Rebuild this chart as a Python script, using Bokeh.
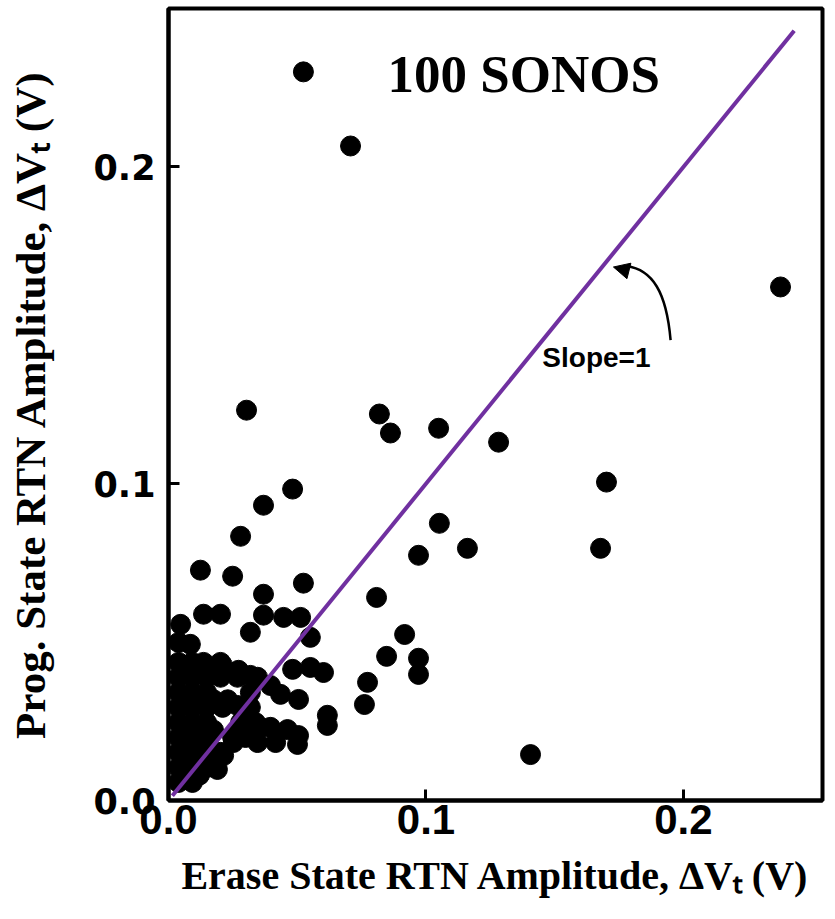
from bokeh.plotting import figure
from bokeh.models import (FixedTicker, PrintfTickFormatter, Label, Range1d,
                          Arrow, NormalHead, ColumnDataSource)
from bokeh.embed import file_html
from bokeh.resources import INLINE

# Erase-state vs program-state RTN amplitude (V)
erase_dvt = [
    # isolated points
    0.0524, 0.0707, 0.2377, 0.0303, 0.0819, 0.0862, 0.1049, 0.1282, 0.1701, 0.0482,
    0.0369, 0.0280, 0.1052, 0.0971, 0.1161, 0.1678, 0.0124, 0.0249, 0.0808, 0.0524,
    0.0369, 0.0136, 0.0202, 0.0369, 0.0447, 0.0513, 0.0318, 0.0551, 0.0047, 0.0085,
    0.0917, 0.0847, 0.0971, 0.0971, 0.0773, 0.0761, 0.1406,
    # near cluster
    0.0210, 0.0272, 0.0318, 0.0482, 0.0551, 0.0602, 0.0396, 0.0435, 0.0505, 0.0617,
    0.0617, 0.0357, 0.0396, 0.0462, 0.0505, 0.0346, 0.0416, 0.0501, 0.0268, 0.0268,
    0.0252, 0.0214, 0.0190, 0.0113, 0.0074,
    # dense cluster near origin
    0.0039,
    0.0039, 0.0093, 0.0136, 0.0202,
    0.0039, 0.0093, 0.0148, 0.0202, 0.0268, 0.0346,
    0.0039, 0.0093, 0.0148, 0.0318,
    0.0039, 0.0093, 0.0148, 0.0210, 0.0318,
    0.0039, 0.0093, 0.0148, 0.0280, 0.0338,
    0.0039, 0.0093, 0.0148, 0.0249, 0.0299,
    0.0039, 0.0093, 0.0148, 0.0202,
    0.0039, 0.0093, 0.0148,
    0.0039, 0.0093,
    0.0066, 0.0120, 0.0175, 0.0066, 0.0120, 0.0175, 0.0066, 0.0120, 0.0175, 0.0230,
    0.0066, 0.0120, 0.0175, 0.0066, 0.0120,
]
prog_dvt = [
    0.2300, 0.2066, 0.1621, 0.1232, 0.1220, 0.1160, 0.1175, 0.1131, 0.1005, 0.0983,
    0.0932, 0.0834, 0.0875, 0.0774, 0.0796, 0.0796, 0.0727, 0.0708, 0.0641, 0.0686,
    0.0651, 0.0588, 0.0588, 0.0585, 0.0578, 0.0578, 0.0531, 0.0515, 0.0556, 0.0493,
    0.0524, 0.0455, 0.0449, 0.0398, 0.0373, 0.0303, 0.0145,
    0.0427, 0.0411, 0.0395, 0.0414, 0.0420, 0.0404, 0.0363, 0.0335, 0.0319, 0.0269,
    0.0237, 0.0231, 0.0231, 0.0224, 0.0205, 0.0183, 0.0183, 0.0177, 0.0300, 0.0224,
    0.0183, 0.0142, 0.0098, 0.0079, 0.0066,
    0.0499,
    0.0436, 0.0436, 0.0436, 0.0436,
    0.0389, 0.0389, 0.0389, 0.0389, 0.0389, 0.0389,
    0.0341, 0.0341, 0.0341, 0.0341,
    0.0294, 0.0294, 0.0294, 0.0294, 0.0294,
    0.0246, 0.0246, 0.0246, 0.0246, 0.0246,
    0.0199, 0.0199, 0.0199, 0.0199, 0.0199,
    0.0152, 0.0152, 0.0152, 0.0152,
    0.0104, 0.0104, 0.0104,
    0.0057, 0.0057,
    0.0412, 0.0412, 0.0412, 0.0318, 0.0318, 0.0318, 0.0222, 0.0222, 0.0222, 0.0318,
    0.0128, 0.0128, 0.0128, 0.0080, 0.0080,
]

slope_x = [0.0015, 0.2430]
slope_y = [0.0015, 0.2430]

x_ticks = [0.0, 0.1, 0.2]
y_ticks = [0.0, 0.1, 0.2]

p = figure(width=835, height=919,
           x_range=Range1d(0, 0.254), y_range=Range1d(0, 0.25),
           output_backend="svg", toolbar_location=None,
           min_border_left=168, min_border_right=13,
           min_border_top=8, min_border_bottom=119)

p.background_fill_color = "white"
p.border_fill_color = "white"
p.grid.visible = False
p.outline_line_color = "black"
p.outline_line_width = 4

src = ColumnDataSource(dict(x=erase_dvt, y=prog_dvt))
p.scatter("x", "y", source=src, size=20, fill_color="black", line_color="black")

p.line(slope_x, slope_y, line_color="#7030A0", line_width=4)

for ax in (p.xaxis[0], p.yaxis[0]):
    ax.axis_line_width = 4
    ax.axis_line_color = "black"
    ax.major_tick_in = 11
    ax.major_tick_out = 0
    ax.major_tick_line_width = 3
    ax.minor_tick_line_color = None
    ax.formatter = PrintfTickFormatter(format="%.1f")
    ax.major_label_text_font_style = "bold"
    ax.major_label_text_color = "black"
    ax.axis_label_text_font = "Liberation Serif"
    ax.axis_label_text_font_style = "bold"
    ax.axis_label_text_color = "black"

p.xaxis[0].ticker = FixedTicker(ticks=x_ticks)
p.yaxis[0].ticker = FixedTicker(ticks=y_ticks)
p.xaxis[0].major_label_text_font = "Liberation Sans"
p.xaxis[0].major_label_text_font_size = "42px"
p.yaxis[0].major_label_text_font = "DejaVu Sans"
p.yaxis[0].major_label_text_font_size = "35px"
p.xaxis[0].major_label_standoff = 4
p.yaxis[0].major_label_standoff = 13
p.xaxis[0].axis_label = "Erase State RTN Amplitude, \u0394V\u209c (V)"
p.yaxis[0].axis_label = "Prog. State RTN Amplitude, \u0394V\u209c (V)"
p.xaxis[0].axis_label_text_font_size = "40px"
p.yaxis[0].axis_label_text_font_size = "43px"
p.xaxis[0].axis_label_standoff = 16
p.yaxis[0].axis_label_standoff = 36

p.add_layout(Label(x=0.138, y=0.2294, text="100 SONOS", text_align="center",
                   text_baseline="alphabetic", text_font="Liberation Serif",
                   text_font_style="bold", text_font_size="53px", text_color="black"))
p.add_layout(Label(x=0.1452, y=0.1397, text="Slope=1", text_align="left",
                   text_baseline="alphabetic", text_font="Liberation Sans",
                   text_font_style="bold", text_font_size="28px", text_color="black"))

p.bezier(x0=[0.1950], y0=[0.1453], x1=[0.1779], y1=[0.1687],
         cx0=[0.1934], cy0=[0.1605], cx1=[0.1880], cy1=[0.1675],
         line_color="black", line_width=2.5)
p.add_layout(Arrow(end=NormalHead(size=16, fill_color="black", line_color="black"),
                   x_start=0.1786, y_start=0.1672, x_end=0.1728, y_end=0.1684,
                   line_color="black", line_width=2.5))

open("out.html", "w").write(file_html(p, INLINE))
